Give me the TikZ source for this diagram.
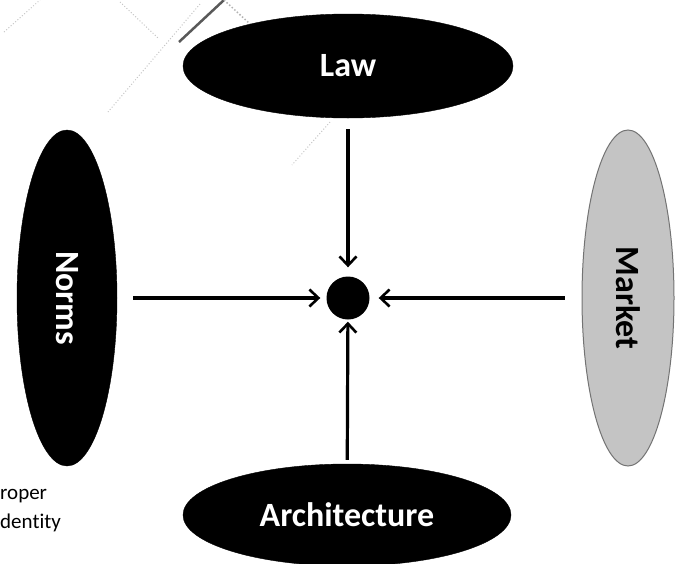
\documentclass[tikz,border=0pt]{standalone}
\usepackage{fontspec}
\setmainfont{Carlito}[Ligatures=NoCommon]
\usetikzlibrary{shapes.geometric,arrows.meta,positioning}
\definecolor{marketgray}{RGB}{196,196,196}

\begin{document}
\begin{tikzpicture}[x=1pt, y=-1pt,
    force/.style={
        ellipse, draw=black, fill=black, text=white, inner sep=0pt,
        font=\fontsize{34}{40}\selectfont\bfseries
    },
    flow/.style={-{Straight Barb[length=9pt,width=17pt,line width=2.6pt]}, line width=3.2pt},
    noise/.style={gray!45, line width=1pt, dotted}
]
\useasboundingbox (0,0) rectangle (675,563);

% Scan marks
\draw[noise] (4,32) -- (40,0);
\draw[noise] (120,2) -- (158,38);
\draw[noise] (200,4) -- (108,112);
\draw[noise] (330,122) -- (292,165);
\draw[black!65, line width=2.5pt] (179,42) -- (224,0);
\draw[gray!60, line width=1.5pt, dotted] (224,0) -- (250,24);

% Central point
\node[circle, fill=black, minimum size=43pt, inner sep=0pt] (hub) at (348,298) {};

% The four constraints
\node[force, minimum width=330pt, minimum height=104pt] (law) at (348,66) {Law};
\node[force, minimum width=336pt, minimum height=100pt, rotate=-90] (norms) at (67,298) {Norms};
\node[force, minimum width=336pt, minimum height=92pt, rotate=-90,
      fill=marketgray, draw=black!55, line width=1pt, text=black] (market) at (628,298) {Market};
\node[force, minimum width=328pt, minimum height=102pt] (arch) at (347,515) {Architecture};

% Cut-off label
\node[anchor=west, align=left, inner sep=0pt, font=\fontsize{21}{29}\selectfont] (lbl) at (0,511) {roper\\dentity};

% Arrows into the point
\draw[flow, shorten <=11pt, shorten >=9pt] (law) -- (hub);
\draw[flow, shorten <=16pt, shorten >=6pt] (norms) -- (hub);
\draw[flow, shorten <=17pt, shorten >=9pt] (market) -- (hub);
\draw[flow, shorten <=4pt, shorten >=2pt] (arch) -- (hub);

\end{tikzpicture}
\end{document}
